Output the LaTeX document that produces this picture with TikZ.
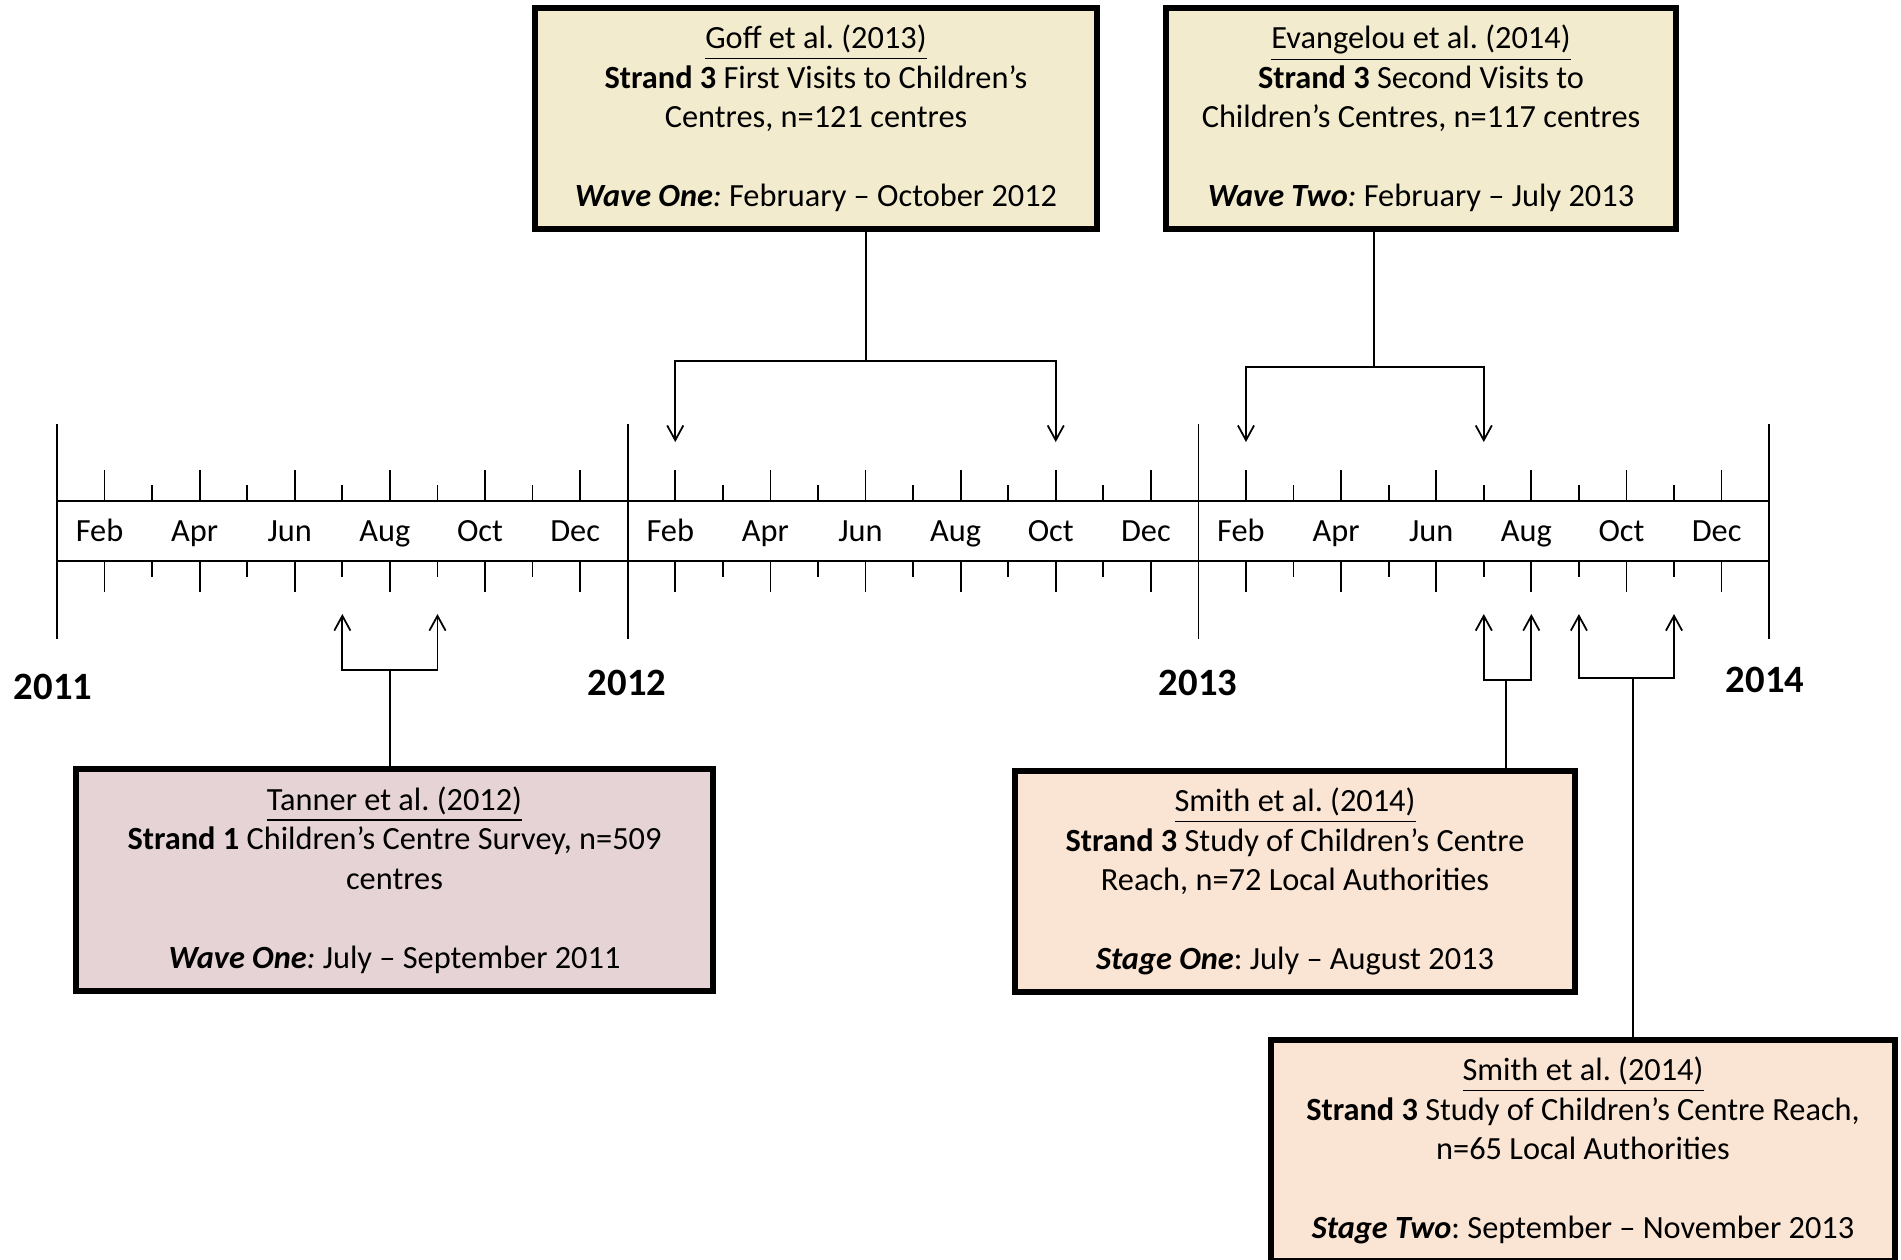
\documentclass[tikz,border=0pt]{standalone}
\usepackage{fontspec}
\setmainfont{Carlito}
\usetikzlibrary{arrows.meta}
\definecolor{waveyellow}{RGB}{242,235,205}
\definecolor{surveypink}{RGB}{230,211,213}
\definecolor{reachpeach}{RGB}{250,228,211}
\newcommand{\boxfont}{\fontsize{9.2}{11.2}\selectfont}
\frenchspacing

\tikzset{
  study/.style={draw=black,line width=1.7pt,align=center,inner sep=0pt,
    minimum height=2.21cm,font=\boxfont},
  month/.style={font=\boxfont,inner sep=0pt,anchor=base},
  yearlbl/.style={font=\fontsize{11}{13}\selectfont\bfseries,inner sep=0pt},
  arr/.style={-{Straight Barb[length=4.2pt,width=4.6pt]}}
}

\begin{document}
\begin{tikzpicture}[x=0.01cm,y=-0.01cm,line width=0.5pt]
  \useasboundingbox (0,0) rectangle (1901,1259);
  % timeline band and year lines
  \draw (57,501) rectangle (1769,561);
  \foreach \i in {0,1,2,3}
    \draw (57+570.7*\i,424) -- (57+570.7*\i,639);
  \foreach \yr [count=\i from 0] in {2011,2012,2013}{
    \foreach \m in {1,3,...,11}{
      \draw (57+570.7*\i+47.56*\m,470) -- (57+570.7*\i+47.56*\m,501);
      \draw (57+570.7*\i+47.56*\m,561) -- (57+570.7*\i+47.56*\m,592);
    }
    \foreach \m in {2,4,...,10}{
      \draw (57+570.7*\i+47.56*\m,485) -- (57+570.7*\i+47.56*\m,501);
      \draw (57+570.7*\i+47.56*\m,561) -- (57+570.7*\i+47.56*\m,577);
    }
    \foreach \m in {1,...,11}{
      \coordinate (top-\yr-\m) at (57+570.7*\i+47.56*\m,442);
      \coordinate (bot-\yr-\m) at (57+570.7*\i+47.56*\m,614);
    }
    \foreach \m/\mname in {1/Feb,3/Apr,5/Jun,7/Aug,9/Oct,11/Dec}
      \node[month] (\mname-\yr) at (52+570.7*\i+47.56*\m,541) {\mname};
  }
  \node[yearlbl] (y2011) at (53,687) {2011};
  \node[yearlbl] (y2012) at (627,683) {2012};
  \node[yearlbl] (y2013) at (1198,683) {2013};
  \node[yearlbl] (y2014) at (1765,680) {2014};

  % study boxes
  \node[study,fill=waveyellow,minimum width=5.62cm] (goff) at (816,118.5)
    {\underline{Goff et al. (2013)}\\
     \textbf{Strand 3} First Visits to Children’s\\
     Centres, n=121 centres\\[11.2pt]
     \textbf{\textit{Wave One}}\textit{:} February – October 2012};
  \node[study,fill=waveyellow,minimum width=5.10cm] (evang) at (1421,118.5)
    {\underline{Evangelou et al. (2014)}\\
     \textbf{Strand 3} Second Visits to\\
     Children’s Centres, n=117 centres\\[11.2pt]
     \textbf{\textit{Wave Two}}\textit{:} February – July 2013};
  \node[study,fill=surveypink,minimum width=6.37cm] (tanner) at (394.5,880)
    {\underline{Tanner et al. (2012)}\\
     \textbf{Strand 1} Children’s Centre Survey, n=509\\
     centres\\[11.2pt]
     \textbf{\textit{Wave One}}\textit{:} July – September 2011};
  \node[study,fill=reachpeach,minimum width=5.60cm] (smith1) at (1295,881.5)
    {\underline{Smith et al. (2014)}\\
     \textbf{Strand 3} Study of Children’s Centre\\
     Reach, n=72 Local Authorities\\[11.2pt]
     \textbf{\textit{Stage One}}: July – August 2013};
  \node[study,fill=reachpeach,minimum width=6.24cm] (smith2) at (1583,1150.5)
    {\underline{Smith et al. (2014)}\\
     \textbf{Strand 3} Study of Children’s Centre Reach,\\
     n=65 Local Authorities\\[11.2pt]
     \textbf{\textit{Stage Two}}: September – November 2013};

  % brackets
  \coordinate (goffsplit) at (866,361);
  \draw (goff.south -| goffsplit) -- (goffsplit);
  \draw[arr] (goffsplit) -| (top-2012-1);
  \draw[arr] (goffsplit) -| (top-2012-9);
  \coordinate (evangsplit) at (1374,367);
  \draw (evang.south -| evangsplit) -- (evangsplit);
  \draw[arr] (evangsplit) -| (top-2013-1);
  \draw[arr] (evangsplit) -| (top-2013-6);
  \coordinate (tannersplit) at (390,670);
  \draw (tanner.north -| tannersplit) -- (tannersplit);
  \draw[arr] (tannersplit) -| (bot-2011-6);
  \draw[arr] (tannersplit) -| (bot-2011-8);
  \coordinate (smithAsplit) at (1506,680);
  \draw (smith1.north -| smithAsplit) -- (smithAsplit);
  \draw[arr] (smithAsplit) -| (bot-2013-6);
  \draw[arr] (smithAsplit) -| (bot-2013-7);
  \coordinate (smithBsplit) at (1633,678);
  \draw (smith2.north -| smithBsplit) -- (smithBsplit);
  \draw[arr] (smithBsplit) -| (bot-2013-8);
  \draw[arr] (smithBsplit) -| (bot-2013-10);
\end{tikzpicture}
\end{document}
